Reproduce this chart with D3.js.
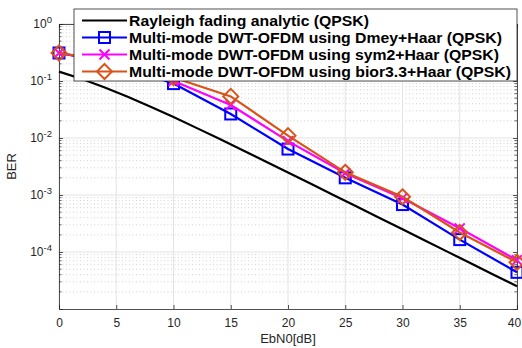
<!DOCTYPE html>
<html>
<head>
<meta charset="utf-8">
<script src="https://cdn.jsdelivr.net/npm/d3@7"></script>
<style>
  body { margin: 0; background: #fff; }
  text { font-family: "Liberation Sans", Arial, sans-serif; }
</style>
</head>
<body>
<div id="chart"></div>
<script>
// data
const ebn0Analytic = [0, 2, 4, 6, 8, 10, 12, 14, 16, 18, 20, 22, 24, 26, 28, 30, 32, 34, 36, 38, 40];
const berRayleigh = [0.146, 0.1085, 0.0771, 0.053, 0.0355, 0.0233, 0.01505, 0.00967, 0.00617, 0.00392, 0.00248,
                     0.00157, 0.00099, 0.000627, 0.000396, 0.00025, 0.000158, 0.0000995, 0.0000628, 0.0000396, 0.000025];
const ebn0 = [0, 5, 10, 15, 20, 25, 30, 35, 40];
const berDmey = [0.31, 0.2, 0.09, 0.0264, 0.0064, 0.002, 0.00068, 0.000165, 0.000044];
const berSym2 = [0.31, 0.21, 0.1, 0.038, 0.0088, 0.0024, 0.00088, 0.00026, 0.000072];
const berBior = [0.31, 0.22, 0.115, 0.0537, 0.011, 0.0025, 0.00093, 0.00022, 0.000066];
const seriesNames = [
  "Rayleigh fading analytic (QPSK)",
  "Multi-mode DWT-OFDM using Dmey+Haar (QPSK)",
  "Multi-mode DWT-OFDM using sym2+Haar (QPSK)",
  "Multi-mode DWT-OFDM using bior3.3+Haar (QPSK)"
];
const legendWidths = [240, 373, 370, 382];
const xTicks = [0, 5, 10, 15, 20, 25, 30, 35, 40];
const yTicks = [1, 1e-1, 1e-2, 1e-3, 1e-4];

const W = 522, H = 348;
const margin = {left: 59, right: 5, top: 24, bottom: 39};

const svg = d3.select("#chart").append("svg")
    .attr("width", W)
    .attr("height", H);

const x = d3.scaleLinear().domain([0, 40]).range([margin.left, W - margin.right]);
const y = d3.scaleLog().domain([1e-5, 1]).range([H - margin.bottom, margin.top]);

const x0 = x.range()[0], x1 = x.range()[1], yb = y.range()[0], yt = y.range()[1];

// minor values for log axis
const minor = [];
for (let e = -5; e < 0; e++) {
  for (let m = 2; m <= 9; m++) minor.push(m * Math.pow(10, e));
}

// minor grid (dotted)
svg.append("g").selectAll("line")
  .data(minor)
  .join("line")
    .attr("x1", x0).attr("x2", x1)
    .attr("y1", d => y(d)).attr("y2", d => y(d))
    .attr("stroke", "#c8c8c8")
    .attr("stroke-width", 0.8)
    .attr("stroke-dasharray", "1,2.5");

// major grid
svg.append("g").selectAll("line")
  .data(yTicks)
  .join("line")
    .attr("x1", x0).attr("x2", x1)
    .attr("y1", d => y(d)).attr("y2", d => y(d))
    .attr("stroke", "#e3e3e3")
    .attr("stroke-width", 1);
svg.append("g").selectAll("line")
  .data(xTicks)
  .join("line")
    .attr("x1", d => x(d)).attr("x2", d => x(d))
    .attr("y1", yt).attr("y2", yb)
    .attr("stroke", "#e3e3e3")
    .attr("stroke-width", 1);

// axes (ticks pointing in, like matlab)
const axisColor = "#262626";
const gx = svg.append("g")
    .attr("transform", `translate(0,${yb})`)
    .call(d3.axisBottom(x).tickValues(xTicks).tickSize(-4).tickPadding(9).tickFormat(d3.format("d")));
const gy = svg.append("g")
    .attr("transform", `translate(${x0},0)`)
    .call(d3.axisLeft(y).tickValues(yTicks).tickSize(-4).tickFormat(""));
const gr = svg.append("g")
    .attr("transform", `translate(${x1},0)`)
    .call(d3.axisRight(y).tickValues(yTicks).tickSize(-4).tickFormat(""));
const gt = svg.append("g")
    .attr("transform", `translate(0,${yt})`)
    .call(d3.axisTop(x).tickValues(xTicks).tickSize(-4).tickFormat(""));

[gx, gy, gr, gt].forEach(g => {
  g.select(".domain").attr("stroke", axisColor).attr("stroke-width", 0.8);
  g.selectAll(".tick line").attr("stroke", axisColor).attr("stroke-width", 0.8);
});
gx.selectAll(".tick text").attr("fill", axisColor).attr("font-size", 12);
// last label sits at the edge of the window
gx.selectAll(".tick text").filter(d => d === 40).attr("dx", -3);

// minor ticks on both sides
[x0, x1].forEach((xx, i) => {
  svg.append("g").selectAll("line")
    .data(minor)
    .join("line")
      .attr("x1", xx).attr("x2", i === 0 ? xx + 2.5 : xx - 2.5)
      .attr("y1", d => y(d)).attr("y2", d => y(d))
      .attr("stroke", axisColor)
      .attr("stroke-width", 0.7);
});

// y tick labels 10^n
const ylab = svg.append("g").selectAll("text")
  .data(yTicks)
  .join("text")
    .attr("x", x0 - 7)
    .attr("y", d => y(d) + 4)
    .attr("text-anchor", "end")
    .attr("fill", axisColor)
    .attr("font-size", 12);
ylab.append("tspan").text("10");
ylab.append("tspan")
    .attr("dy", -5)
    .attr("font-size", 9.5)
    .text(d => Math.round(Math.log10(d)) === 0 ? "0" : "-" + Math.abs(Math.round(Math.log10(d))));

// axis titles
svg.append("text")
    .attr("x", (x0 + x1) / 2)
    .attr("y", H - 5)
    .attr("text-anchor", "middle")
    .attr("fill", axisColor)
    .attr("font-size", 13)
    .text("EbN0[dB]");
svg.append("text")
    .attr("transform", `translate(16,${(yt + yb) / 2}) rotate(-90)`)
    .attr("text-anchor", "middle")
    .attr("fill", axisColor)
    .attr("font-size", 13)
    .text("BER");

// series
const colors = ["#000000", "#0000ff", "#ff00ff", "#d95319"];
const series = [
  {name: seriesNames[0], xs: ebn0Analytic, ys: berRayleigh, color: colors[0], marker: "none"},
  {name: seriesNames[1], xs: ebn0, ys: berDmey, color: colors[1], marker: "square"},
  {name: seriesNames[2], xs: ebn0, ys: berSym2, color: colors[2], marker: "cross"},
  {name: seriesNames[3], xs: ebn0, ys: berBior, color: colors[3], marker: "diamond"}
];

const line = d3.line().x(d => x(d[0])).y(d => y(d[1]));

function drawMarker(g, type, color) {
  if (type === "square") {
    g.append("rect").attr("x", -5.5).attr("y", -5.5).attr("width", 11).attr("height", 11)
      .attr("fill", "none").attr("stroke", color).attr("stroke-width", 2);
  } else if (type === "cross") {
    g.append("path").attr("d", "M-5,-5L5,5M-5,5L5,-5")
      .attr("fill", "none").attr("stroke", color).attr("stroke-width", 2);
  } else if (type === "diamond") {
    g.append("path").attr("d", "M0,-7.5L7.5,0L0,7.5L-7.5,0Z")
      .attr("fill", "none").attr("stroke", color).attr("stroke-width", 2);
  }
}

series.forEach(s => {
  const pts = s.xs.map((v, i) => [v, s.ys[i]]);
  svg.append("path")
      .datum(pts)
      .attr("d", line)
      .attr("fill", "none")
      .attr("stroke", s.color)
      .attr("stroke-width", 2.2);
  if (s.marker !== "none") {
    svg.append("g").selectAll("g")
      .data(pts)
      .join("g")
        .attr("transform", d => `translate(${x(d[0])},${y(d[1])})`)
        .each(function() { drawMarker(d3.select(this), s.marker, s.color); });
  }
});

// legend
const lg = svg.append("g");
lg.append("rect")
    .attr("x", 74).attr("y", 9)
    .attr("width", x1 - 74).attr("height", 72)
    .attr("fill", "#fff")
    .attr("stroke", "#262626")
    .attr("stroke-width", 0.8);
series.forEach((s, i) => {
  const ry = 20.5 + i * 17;
  lg.append("line")
      .attr("x1", 82).attr("x2", 127)
      .attr("y1", ry).attr("y2", ry)
      .attr("stroke", s.color)
      .attr("stroke-width", 2.2);
  const m = lg.append("g").attr("transform", `translate(104.5,${ry})`);
  drawMarker(m, s.marker, s.color);
  lg.append("text")
      .attr("x", 129)
      .attr("y", ry + 5)
      .attr("font-size", 14)
      .attr("font-weight", "bold")
      .attr("fill", "#000")
      .attr("textLength", legendWidths[i])
      .attr("lengthAdjust", "spacingAndGlyphs")
      .text(s.name);
});
</script>
</body>
</html>
